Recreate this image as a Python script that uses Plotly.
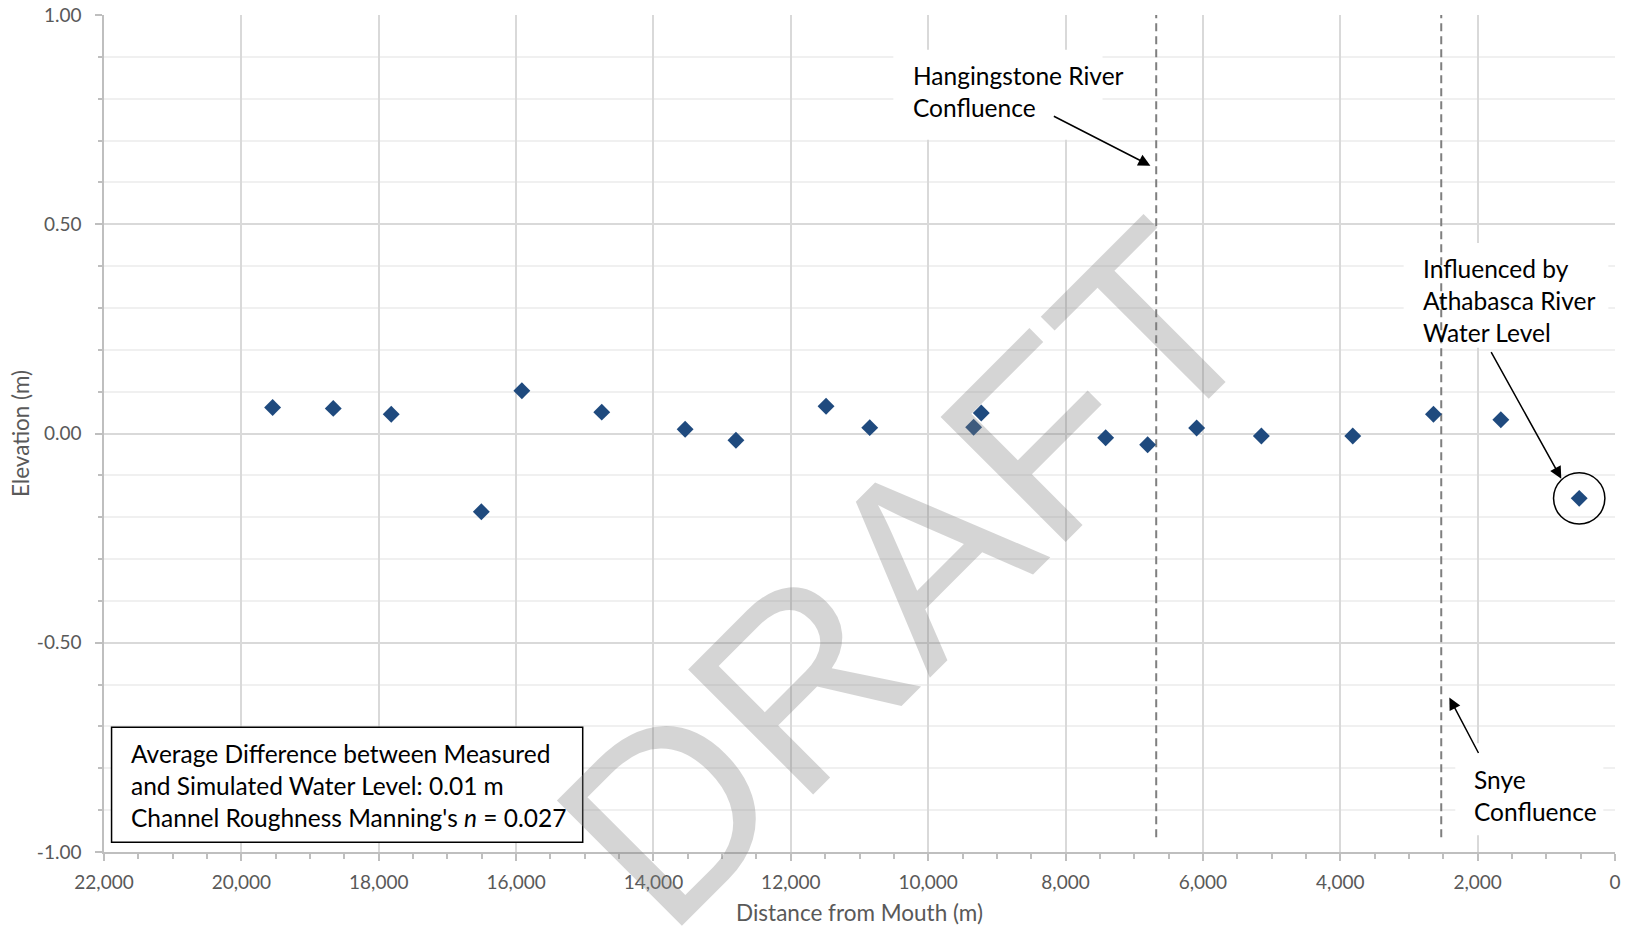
import plotly.graph_objects as go

# ---- data ----
distance_m = [19545, 18662, 17818, 16506, 15916, 14753, 13539, 12799, 11487, 10851,
              9338, 9227, 7416, 6805, 6091, 5149, 3818, 2643, 1662, 521]
elev_diff_m = [0.062, 0.060, 0.046, -0.187, 0.102, 0.051, 0.010, -0.016, 0.065, 0.014,
               0.015, 0.049, -0.010, -0.027, 0.013, -0.006, -0.006, 0.046, 0.033, -0.155]
confluence_names = ["Hangingstone River Confluence", "Snye Confluence"]
confluence_dist = [6680, 2530]

x_ticks = [22000, 20000, 18000, 16000, 14000, 12000, 10000, 8000, 6000, 4000, 2000, 0]
y_ticks = [-1.0, -0.5, 0.0, 0.5, 1.0]
y_ticktext = ["%.2f" % v for v in y_ticks]

FONT = "Lato"
TXT = "#000000"
GRAY = "#595959"
AX = "#bfbfbf"

fig = go.Figure()
fig.add_trace(go.Scatter(
    x=distance_m, y=elev_diff_m, mode="markers",
    marker=dict(symbol="diamond", size=13, color="#1f4a7e"),
    showlegend=False, hoverinfo="x+y"))

shapes = []
# white boxes behind callout text (cover gridlines)
for x0, x1, y0, y1 in [(10507, 7462, 0.702, 0.917), (3077, 97, 0.205, 0.455), (2325, 170, -0.96, -0.74)]:
    shapes.append(dict(type="rect", xref="x", yref="y", x0=x0, x1=x1, y0=y0, y1=y1,
                       fillcolor="white", line=dict(width=0), layer="between"))
# stats box
shapes.append(dict(type="rect", xref="x", yref="y", x0=21890, x1=15030, y0=-0.977, y1=-0.702,
                   fillcolor="white", line=dict(color="black", width=1.5), layer="between"))
# confluence dashed lines
for d in confluence_dist:
    shapes.append(dict(type="line", xref="x", yref="y", x0=d, x1=d, y0=-0.965, y1=1.0,
                       line=dict(color="#7f7f7f", width=2, dash="8px,5px"), layer="between"))
# circle around last point
cx, cy = distance_m[-1], elev_diff_m[-1]
shapes.append(dict(type="circle", xref="x", yref="y", x0=cx - 374, x1=cx + 374,
                   y0=cy - 0.0614, y1=cy + 0.0614, line=dict(color="black", width=1.5),
                   layer="above"))

annots = []
fs = 24.5
annots.append(dict(x=10245, y=0.818, xref="x", yref="y", xanchor="left", yanchor="middle",
                   align="left", showarrow=False, text="Hangingstone River<br>Confluence",
                   font=dict(family=FONT, size=fs, color=TXT)))
annots.append(dict(x=2820, y=0.318, xref="x", yref="y", xanchor="left", yanchor="middle",
                   align="left", showarrow=False,
                   text="Influenced by<br>Athabasca River<br>Water Level",
                   font=dict(family=FONT, size=fs, color=TXT)))
annots.append(dict(x=2082, y=-0.8655, xref="x", yref="y", xanchor="left", yanchor="middle",
                   align="left", showarrow=False, text="Snye<br>Confluence",
                   font=dict(family=FONT, size=fs, color=TXT)))
annots.append(dict(x=21638, y=-0.841, xref="x", yref="y", xanchor="left", yanchor="middle",
                   align="left", showarrow=False,
                   text="Average Difference between Measured<br>and Simulated Water Level: 0.01 m"
                        "<br>Channel Roughness Manning's <i>n</i> = 0.027",
                   font=dict(family=FONT, size=fs, color=TXT)))
# arrows
for (hx, hy, tx, ty) in [(6765, 0.640, 8192, 0.760), (782, -0.108, 1815, 0.198),
                         (2412, -0.631, 1976, -0.767)]:
    annots.append(dict(x=hx, y=hy, ax=tx, ay=ty, xref="x", yref="y", axref="x", ayref="y",
                       showarrow=True, arrowhead=2, arrowsize=1.6, arrowwidth=1.5,
                       arrowcolor="black", text=""))
# DRAFT watermark
annots.append(dict(x=0.531, y=0.332, xref="paper", yref="paper", xanchor="center",
                   yanchor="middle", text="DRAFT", showarrow=False,
                   textangle=-45, font=dict(family="Liberation Sans", size=257,
                                           color="rgba(128,128,128,0.33)")))

fig.update_layout(
    width=1625, height=930,
    margin=dict(l=104, r=10, t=15, b=78),
    paper_bgcolor="white", plot_bgcolor="white",
    font=dict(family=FONT, color=GRAY),
    shapes=shapes, annotations=annots,
    xaxis=dict(range=[22000, 0], tickvals=x_ticks, tickformat=",d", automargin=False,
               showgrid=True, gridcolor="#d9d9d9", gridwidth=1.5,
               showline=True, linecolor=AX, linewidth=1.5,
               ticks="outside", ticklen=7, tickcolor=AX, tickwidth=1.5,
               minor=dict(dtick=500, ticks="outside", ticklen=5, tickcolor=AX, showgrid=False),
               tickfont=dict(size=19, color=GRAY), ticklabelstandoff=5,
               title=dict(text="Distance from Mouth (m)", font=dict(size=22.5, color=GRAY), standoff=14),
               zeroline=False),
    yaxis=dict(range=[-1, 1], tickvals=y_ticks, ticktext=y_ticktext, automargin=False,
               showgrid=True, gridcolor="#d9d9d9", gridwidth=1.5,
               showline=True, linecolor=AX, linewidth=1.5,
               ticks="outside", ticklen=7, tickcolor=AX, tickwidth=1.5,
               minor=dict(dtick=0.1, ticks="outside", ticklen=4, tickcolor=AX,
                          showgrid=True, gridcolor="#f0f0f0", gridwidth=1.5),
               tickfont=dict(size=19, color=GRAY), ticklabelstandoff=10,
               title=dict(text="Elevation (m)", font=dict(size=22.5, color=GRAY), standoff=1),
               zeroline=False),
)

fig.write_html("out.html")
